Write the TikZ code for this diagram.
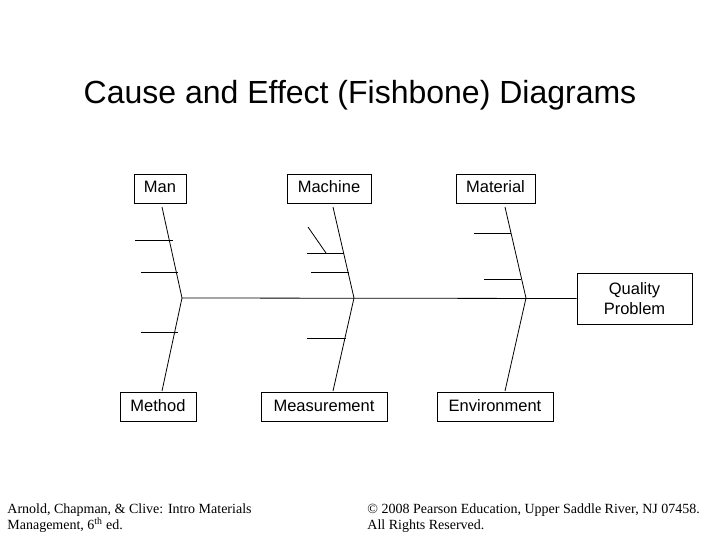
\documentclass[tikz,border=0pt]{standalone}
\usepackage{fontspec}
\setmainfont{Liberation Sans}
\newfontfamily\serifft{Liberation Serif}
\begin{document}
\begin{tikzpicture}[x=1pt,y=-1pt,line width=0.8pt,
  lbl/.style={draw,fill=white,font=\fontsize{16.5}{19}\selectfont,inner sep=0pt,minimum height=29pt,text height=12pt,text depth=3pt},
  foot/.style={font=\serifft\fontsize{14}{16.5}\selectfont,anchor=north west,align=left,inner sep=0pt}]
\useasboundingbox (0,0) rectangle (720,540);
\node[font=\fontsize{32}{36}\selectfont] (title) at (360,95) {Cause and Effect (Fishbone) Diagrams};
\node[lbl,minimum width=52pt] (man) at (160,188.5) {Man};
\node[lbl,minimum width=84pt] (mach) at (329,188.5) {Machine};
\node[lbl,minimum width=79pt] (mat) at (495.5,188.5) {Material};
\node[lbl,minimum width=76pt] (meth) at (158,406.5) {Method};
\node[lbl,minimum width=126pt] (meas) at (324,406.5) {Measurement};
\node[lbl,minimum width=116pt] (env) at (495,406.5) {Environment};
\node[draw,fill=white,inner sep=0pt,minimum width=115pt,minimum height=51pt,align=center,font=\fontsize{16.5}{20}\selectfont] (qp) at (634.5,298.5) {Quality\\Problem};
\coordinate (j1) at (182,298); \coordinate (j2) at (354,298); \coordinate (j3) at (526,298);
\coordinate (t1) at (162,207); \coordinate (t2) at (333,207); \coordinate (t3) at (505,207);
\coordinate (b1) at (162,391); \coordinate (b2) at (333,391); \coordinate (b3) at (505,391);
\draw (j1) -- (qp.west);
\draw (t1) -- (j1) -- (b1);
\draw (t2) -- (j2) -- (b2);
\draw (t3) -- (j3) -- (b3);
% Man
\draw (135,240) -- (173,240);
\draw (141,272) -- (178,272);
\draw (141,332) -- (178,332);
% Machine
\draw (307,253) -- (344,253);
\draw (308,227) -- (326,253);
\draw (311,272) -- (349,272);
\draw (307,338) -- (346,338);
% Material
\draw (474,233) -- (511,233);
\draw (484,279) -- (521,279);
\node[foot] (f1) at (7,503) {Arnold, Chapman, \& Clive: Intro Materials\\Management, 6\textsuperscript{th} ed.};
\node[foot] (f2) at (367,503) {© 2008 Pearson Education, Upper Saddle River, NJ 07458.\\All Rights Reserved.};
\end{tikzpicture}
\end{document}
